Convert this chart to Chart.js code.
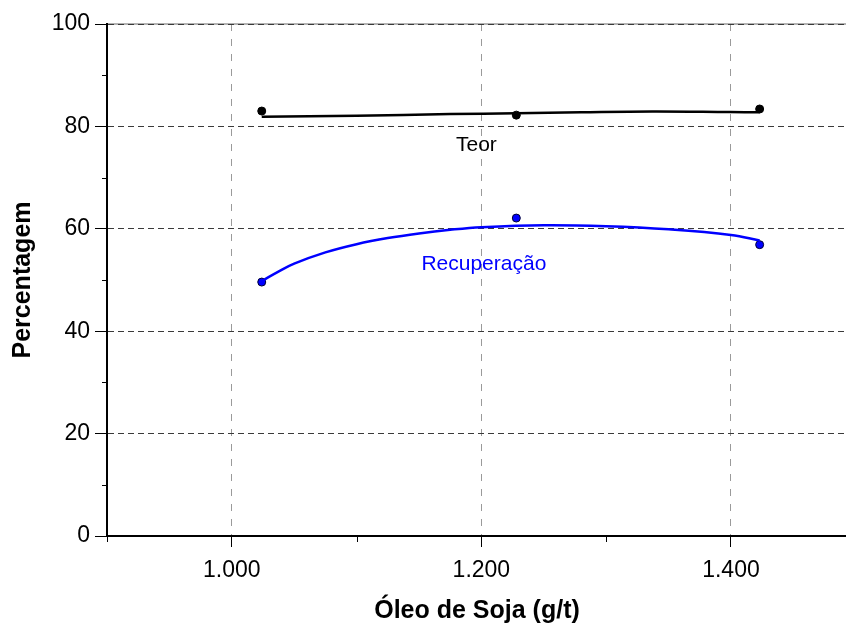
<!DOCTYPE html>
<html>
<head>
<meta charset="utf-8">
<script src="https://cdn.jsdelivr.net/npm/chart.js@4/dist/chart.umd.min.js"></script>
<style>
  html, body { margin: 0; padding: 0; background: #ffffff; }
  #wrap { width: 846px; height: 624px; overflow: hidden; }
</style>
</head>
<body>
<div id="wrap"><canvas id="c" width="852" height="624"></canvas></div>
<script>
// Soybean oil dosage (g/t) at the three test points
const oilDose = [1024, 1228, 1423];
// Measured grade ("Teor") and recovery ("Recuperação"), %
const teorMeasured = [83.0, 82.2, 83.4];
const recMeasured = [49.6, 62.1, 56.9];

// Fitted trend curves
const teorFitX = [1024, 1100, 1175, 1228, 1280, 1337, 1399, 1423];
const teorFitY = [81.9, 82.1, 82.4, 82.55, 82.75, 82.9, 82.8, 82.75];
const recFitX = [1024, 1037, 1050, 1075, 1100, 1125, 1150, 1175, 1200, 1250, 1300, 1350, 1400, 1423];
const recFitY = [49.8, 51.6, 53.2, 55.4, 57.0, 58.2, 59.1, 59.8, 60.3, 60.7, 60.5, 59.9, 58.8, 57.7];

// Axis ticks
const xMajorTicks = [1000, 1200, 1400];
const xMinorTicks = [900, 1100, 1300];
const yMinorTicks = [10, 30, 50, 70, 90];

// Curve labels, placed in data coordinates
const curveLabels = [
  { text: 'Teor', x: 1196, y: 76.4, color: '#000000' },
  { text: 'Recuperação', x: 1202, y: 53.1, color: '#0000ff' }
];

const FONT = '"Liberation Sans", Arial, sans-serif';

function pts(xs, ys) { return xs.map((x, i) => ({ x: x, y: ys[i] })); }
function fmtThousands(v) {
  const s = String(Math.round(v));
  return s.replace(/\B(?=(\d{3})+(?!\d))/g, '.');
}

const extras = {
  id: 'extras',
  beforeDraw(chart) {
    // light frame line along the top of the plot, under the dashed grid
    const ctx = chart.ctx, area = chart.chartArea;
    ctx.save();
    ctx.strokeStyle = '#9a9a9a';
    ctx.lineWidth = 1.5;
    ctx.beginPath();
    ctx.moveTo(area.left, area.top);
    ctx.lineTo(area.right, area.top);
    ctx.stroke();
    ctx.restore();
  },
  afterDraw(chart) {
    const ctx = chart.ctx;
    const xs = chart.scales.x, ys = chart.scales.y;
    const area = chart.chartArea;
    ctx.save();
    ctx.strokeStyle = '#000000';
    ctx.lineWidth = 1;
    ctx.beginPath();
    yMinorTicks.forEach(v => {
      const py = Math.round(ys.getPixelForValue(v)) + 0.5;
      ctx.moveTo(area.left - 5, py); ctx.lineTo(area.left, py);
    });
    xMinorTicks.forEach(v => {
      const px = Math.round(xs.getPixelForValue(v)) + 0.5;
      ctx.moveTo(px, area.bottom); ctx.lineTo(px, area.bottom + 6);
    });
    ctx.stroke();
    ctx.font = '21px ' + FONT;
    ctx.textAlign = 'center';
    ctx.textBaseline = 'middle';
    curveLabels.forEach(l => {
      ctx.fillStyle = l.color;
      ctx.fillText(l.text, xs.getPixelForValue(l.x), ys.getPixelForValue(l.y));
    });
    ctx.restore();
  }
};

new Chart(document.getElementById('c'), {
  type: 'scatter',
  data: {
    datasets: [
      {
        label: 'Teor (ajuste)',
        data: pts(teorFitX, teorFitY),
        showLine: true,
        borderColor: '#000000',
        borderWidth: 2.5,
        pointRadius: 0,
        tension: 0.4,
        fill: false
      },
      {
        label: 'Teor',
        data: pts(oilDose, teorMeasured),
        showLine: false,
        pointRadius: 4,
        backgroundColor: '#000000',
        borderColor: '#000000',
        borderWidth: 1
      },
      {
        label: 'Recuperação (ajuste)',
        data: pts(recFitX, recFitY),
        showLine: true,
        borderColor: '#0000ff',
        borderWidth: 2.5,
        pointRadius: 0,
        tension: 0.4,
        fill: false
      },
      {
        label: 'Recuperação',
        data: pts(oilDose, recMeasured),
        showLine: false,
        pointRadius: 4,
        backgroundColor: '#0000ff',
        borderColor: '#000033',
        borderWidth: 1
      }
    ]
  },
  options: {
    responsive: false,
    animation: false,
    devicePixelRatio: 1,
    layout: { padding: { top: 24, right: 0, bottom: 0, left: 0 } },
    plugins: { legend: { display: false }, tooltip: { enabled: false } },
    scales: {
      x: {
        type: 'linear',
        min: 900,
        max: 1493,
        afterBuildTicks(scale) { scale.ticks = xMajorTicks.map(v => ({ value: v })); },
        afterFit(scale) { scale.height = 88; },
        grid: {
          color: '#9a9a9a',
          lineWidth: 1,
          tickLength: 11,
          tickColor: '#000000',
          tickBorderDash: []
        },
        border: { display: true, color: '#000000', width: 2, dash: [7, 8] },
        ticks: {
          color: '#000000',
          padding: 10,
          maxRotation: 0,
          font: { family: FONT, size: 23 },
          callback: v => fmtThousands(v)
        },
        title: {
          display: true,
          text: 'Óleo de Soja (g/t)',
          color: '#000000',
          font: { family: FONT, size: 25, weight: 'bold', lineHeight: 1 },
          padding: { top: 0, bottom: 0 }
        }
      },
      y: {
        type: 'linear',
        min: 0,
        max: 100,
        afterFit(scale) { scale.width = 107; },
        grid: {
          color: '#3a3a3a',
          lineWidth: 1,
          tickLength: 12,
          tickColor: '#000000',
          tickBorderDash: []
        },
        border: { display: true, color: '#000000', width: 2, dash: [6, 4] },
        ticks: {
          stepSize: 20,
          color: '#000000',
          padding: 5,
          font: { family: FONT, size: 23 }
        },
        title: {
          display: true,
          text: 'Percentagem',
          color: '#000000',
          font: { family: FONT, size: 25, weight: 'bold', lineHeight: 1 },
          padding: { top: 11, bottom: 11 }
        }
      }
    }
  },
  plugins: [extras]
});
</script>
</body>
</html>
